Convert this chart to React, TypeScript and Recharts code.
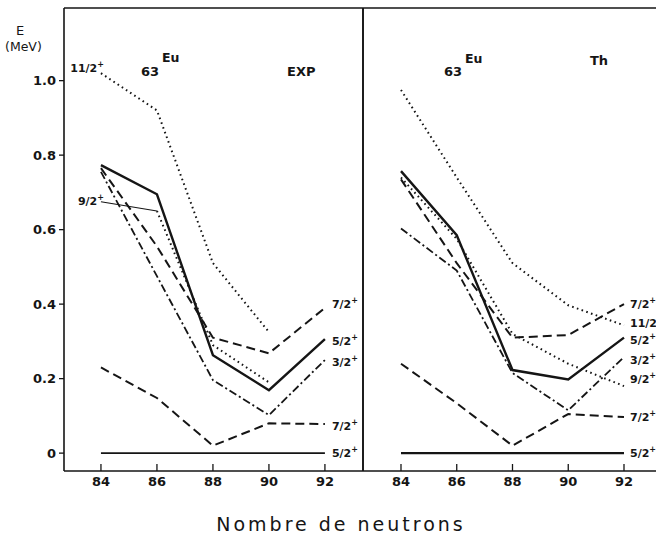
import React from 'react'
import { LineChart, Line, XAxis, YAxis } from 'recharts'

// Nombre de neutrons
const neutrons = [84, 86, 88, 90, 92]
const yTicks = [0, 0.2, 0.4, 0.6, 0.8, 1.0]

// 63Eu, experimental levels (MeV)
const exp52g = [0, 0, 0, 0, 0]
const exp72low = [0.23, 0.148, 0.02, 0.08, 0.078]
const exp32 = [0.755, 0.475, 0.196, 0.102, 0.25]
const exp52 = [0.773, 0.695, 0.263, 0.169, 0.306]
const exp72up = [0.765, 0.555, 0.31, 0.268, 0.39]
const exp112 = [1.02, 0.92, 0.51, 0.325, null]
const exp92a = [0.675, 0.65, null, null, null]
const exp92b = [null, 0.65, 0.29, 0.19, null]

// 63Eu, theory (MeV)
const th52g = [0, 0, 0, 0, 0]
const th72low = [0.24, 0.134, 0.02, 0.105, 0.097]
const th32 = [0.603, 0.49, 0.215, 0.115, 0.258]
const th52 = [0.757, 0.585, 0.223, 0.198, 0.31]
const th72up = [0.735, 0.51, 0.31, 0.317, 0.4]
const th112 = [0.975, 0.74, 0.51, 0.397, 0.343]
const th92 = [0.74, 0.575, 0.32, 0.24, 0.18]

const ink = '#151515'
const font = '"DejaVu Sans", sans-serif'

const SOLID = { strokeWidth: 2.4 }
const GROUND = { strokeWidth: 1.6 }
const THIN = { strokeWidth: 1.1 }
const DASH = { strokeWidth: 2, strokeDasharray: '9 5' }
const DASHDOT = { strokeWidth: 1.8, strokeDasharray: '8 3 2 3' }
const DOT = { strokeWidth: 2, strokeDasharray: '1.6 3.4' }

type Spec = {
  key: string
  style: any
  label?: string
  at?: number
  dx?: number
  dy?: number
  anchor?: 'start' | 'end'
}

const expData = neutrons.map((n, i) => ({
  n,
  g52: exp52g[i],
  low72: exp72low[i],
  p32: exp32[i],
  p52: exp52[i],
  up72: exp72up[i],
  p112: exp112[i],
  p92a: exp92a[i],
  p92b: exp92b[i],
}))

const thData = neutrons.map((n, i) => ({
  n,
  g52: th52g[i],
  low72: th72low[i],
  p32: th32[i],
  p52: th52[i],
  up72: th72up[i],
  p112: th112[i],
  p92: th92[i],
}))

const expSeries: Spec[] = [
  { key: 'g52', style: GROUND, label: '5/2', at: 4, dx: 7, dy: 3.5 },
  { key: 'low72', style: DASH, label: '7/2', at: 4, dx: 7, dy: 5.5 },
  { key: 'p32', style: DASHDOT, label: '3/2', at: 4, dx: 7, dy: 6.5 },
  { key: 'p52', style: SOLID, label: '5/2', at: 4, dx: 7, dy: 5.5 },
  { key: 'up72', style: DASH, label: '7/2', at: 4, dx: 7, dy: 0.5 },
  { key: 'p112', style: DOT, label: '11/2', at: 0, dx: 3, dy: -1, anchor: 'end' },
  { key: 'p92a', style: THIN, label: '9/2', at: 0, dx: 3, dy: 3, anchor: 'end' },
  { key: 'p92b', style: DOT },
]

const thSeries: Spec[] = [
  { key: 'g52', style: SOLID, label: '5/2', at: 4, dx: 6, dy: 3.5 },
  { key: 'low72', style: DASH, label: '7/2', at: 4, dx: 6, dy: 4.5 },
  { key: 'p32', style: DASHDOT, label: '3/2', at: 4, dx: 6, dy: 6.5 },
  { key: 'p52', style: SOLID, label: '5/2', at: 4, dx: 6, dy: 6.5 },
  { key: 'up72', style: DASH, label: '7/2', at: 4, dx: 6, dy: 3.5 },
  { key: 'p112', style: DOT, label: '11/2', at: 4, dx: 6, dy: 1.5 },
  { key: 'p92', style: DOT, label: '9/2', at: 4, dx: 6, dy: -3.5 },
]

// level label drawn next to one point of the line
const levelLabel = (s: Spec) => (p: any) => {
  if (!s.label || p.index !== s.at || p.cy == null) return <g key={p.index} />
  const anchor = s.anchor || 'start'
  return (
    <text key={p.index} x={p.cx + (s.dx || 0)} y={p.cy + (s.dy || 0)} textAnchor={anchor} fontFamily={font}
      fontWeight="bold" fontSize={11} fill={ink}>
      {s.label}
      <tspan fontSize={8} dy={-5}>+</tspan>
    </text>
  )
}

const XTick = (props: any) => {
  const { x, y, payload } = props
  const axisY = y - 6
  return (
    <g>
      <line x1={x} x2={x} y1={axisY} y2={axisY - 7} stroke={ink} strokeWidth={1.3} />
      <text x={x} y={y} dy="0.71em" textAnchor="middle" fontFamily={font} fontWeight="bold"
        fontSize={13} fill={ink}>{payload.value}</text>
    </g>
  )
}

const yFmt = (v: number) => (v === 0 ? '0' : v.toFixed(1))

function Panel({ data, series, left, width, margin, xDomain, yLabels, innerLeftTicks, innerRightTicks }: any) {
  return (
    <div style={{ position: 'absolute', left, top: 0 }}>
      <LineChart width={width} height={539} data={data} margin={margin}>
        <XAxis dataKey="n" type="number" domain={xDomain} ticks={neutrons} height={30}
          axisLine={{ stroke: ink, strokeWidth: 1.6 }} tickLine={false} tickSize={0} tickMargin={6}
          tick={<XTick />} />
        <XAxis xAxisId="top" dataKey="n" type="number" domain={xDomain} ticks={neutrons}
          orientation="top" mirror tick={false} tickSize={7}
          axisLine={{ stroke: ink, strokeWidth: 1.6 }} tickLine={{ stroke: ink, strokeWidth: 1.3 }} />
        {yLabels ? (
          <YAxis type="number" domain={[-0.048, 1.195]} ticks={yTicks} width={64}
            tickFormatter={yFmt} tickSize={5} tickMargin={3}
            axisLine={{ stroke: ink, strokeWidth: 1.6 }} tickLine={{ stroke: ink, strokeWidth: 1.3 }}
            tick={{ fill: ink, fontSize: 13, fontFamily: font, fontWeight: 'bold' }} />
        ) : (
          <YAxis type="number" domain={[-0.048, 1.195]} ticks={innerLeftTicks} mirror tick={false}
            tickSize={5} axisLine={{ stroke: ink, strokeWidth: 1.6 }}
            tickLine={{ stroke: ink, strokeWidth: 1.3 }} />
        )}
        <YAxis yAxisId="r" orientation="right" type="number" domain={[-0.048, 1.195]}
          ticks={innerRightTicks} mirror tick={false} tickSize={5}
          axisLine={{ stroke: ink, strokeWidth: 1.6 }} tickLine={{ stroke: ink, strokeWidth: 1.3 }} />
        {series.map((s: Spec) => (
          <Line key={s.key} dataKey={s.key} type="linear" stroke={ink} {...s.style}
            dot={levelLabel(s)} activeDot={false} isAnimationActive={false} />
        ))}
      </LineChart>
    </div>
  )
}

export default function App() {
  const txt = { fontFamily: font, fill: ink, fontWeight: 'bold' as const }
  return (
    <div style={{ position: 'absolute', left: 0, top: 0, width: 656, height: 539, overflow: 'hidden', background: '#fff' }}>
      <Panel data={expData} series={expSeries} left={0} width={368}
        margin={{ top: 8, right: 5, bottom: 38, left: 0 }} xDomain={[82.68, 93.36]}
        yLabels innerRightTicks={[0.6, 0.8, 1.0]} />
      <Panel data={thData} series={thSeries} left={358} width={305}
        margin={{ top: 8, right: 6, bottom: 38, left: 5 }} xDomain={[82.637, 93.184]}
        innerLeftTicks={[0, 0.2, 0.4]} innerRightTicks={yTicks} />
      <svg width={656} height={539} style={{ position: 'absolute', left: 0, top: 0, pointerEvents: 'none' }}>
        <text x={16} y={35} fontSize={13} {...txt} fontWeight="normal">E</text>
        <text x={5} y={51} fontSize={12.5} {...txt} fontWeight="normal">(MeV)</text>
        <text x={141} y={76} fontSize={13} {...txt}>63</text>
        <text x={162} y={62} fontSize={12.5} {...txt}>Eu</text>
        <text x={287} y={76} fontSize={13} {...txt}>EXP</text>
        <text x={444} y={76} fontSize={13} {...txt}>63</text>
        <text x={465} y={63} fontSize={12.5} {...txt}>Eu</text>
        <text x={590} y={65} fontSize={13} {...txt}>Th</text>
        <text x={341} y={531} textAnchor="middle" fontSize={19} fontFamily={font} fill={ink}
          letterSpacing={3}>Nombre de neutrons</text>
      </svg>
    </div>
  )
}
